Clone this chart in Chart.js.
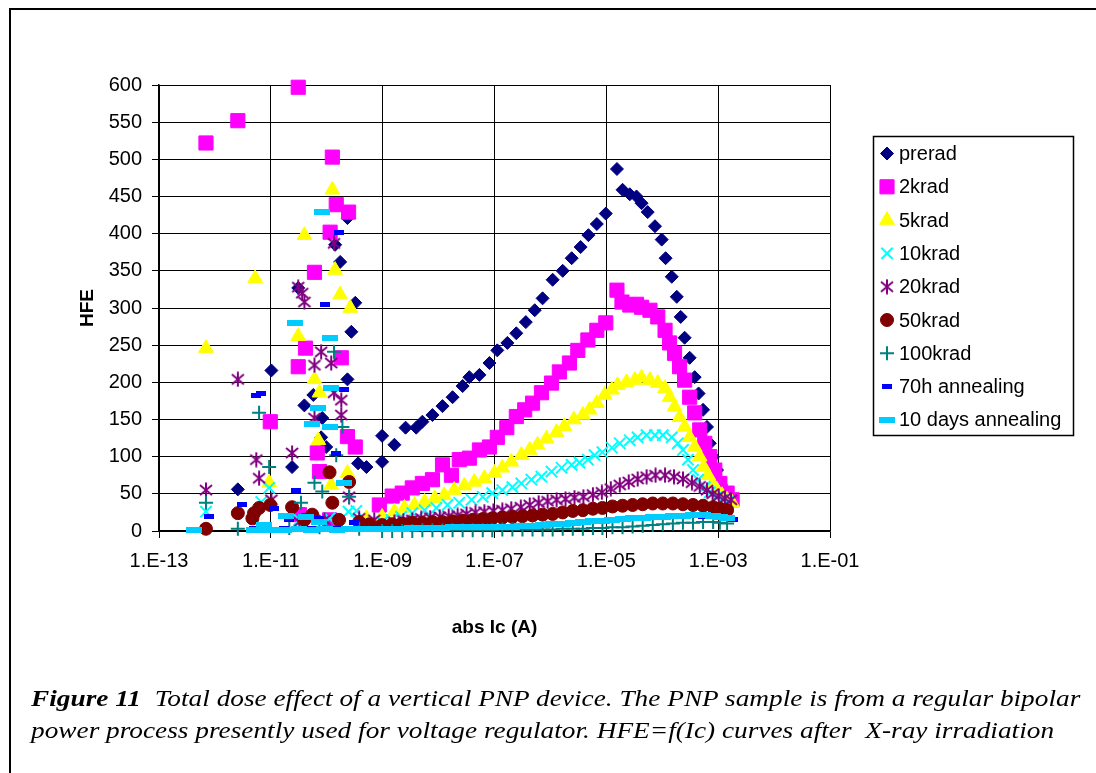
<!DOCTYPE html>
<html>
<head>
<meta charset="utf-8">
<script src="https://cdn.jsdelivr.net/npm/chart.js@4.4.0/dist/chart.umd.min.js"></script>
<style>
  body { margin: 0; background: #fff; }
  #wrap { position: relative; width: 1096px; height: 773px; overflow: hidden; }
  #frame { position: absolute; left: 9px; top: 8px; width: 1200px; height: 900px; border-left: 2px solid #000; border-top: 2px solid #000; }
  #chart { position: absolute; left: 0; top: 0; }
  .cap { position: absolute; left: 31px; font-family: "Liberation Serif", "Times New Roman", serif; font-style: italic; font-size: 23px; line-height: 32px; white-space: nowrap; color: #000; transform: scaleX(1.187); transform-origin: 0 50%; }
</style>
</head>
<body>
<div id="wrap">
  <div id="frame"></div>
  <canvas id="chart" width="1096" height="773"></canvas>
  <div class="cap" style="top:683px"><b>Figure 11</b>&nbsp; Total dose effect of a vertical PNP device. The PNP sample is from a regular bipolar</div>
  <div class="cap" style="top:715px">power process presently used for voltage regulator. HFE=f(Ic) curves after&nbsp; X-ray irradiation</div>
</div>
<script>
// x values are log10(abs Ic), y values are HFE
const preradLogIc = [-11.59,-10.99,-10.62,-10.51,-10.40,-10.24,-10.10,-10.08,-10.01,-9.85,-9.76,-9.63,-9.63,-9.56,-9.49,-9.44,-9.29,
  -9.01,-9.01,-8.79,-8.59,-8.40,-8.29,-8.11,-7.93,-7.75,-7.57,-7.45,-7.27,-7.09,-6.95,-6.77,-6.61,-6.44,-6.28,-6.14,-5.96,
  -5.78,-5.62,-5.46,-5.32,-5.17,-5.01,-4.81,-4.71,-4.58,-4.46,-4.37,-4.26,-4.13,-4.01,-3.94,-3.83,-3.74,-3.67,-3.60,-3.51,
  -3.42,-3.35,-3.27,-3.20,-3.15,-3.09,-3.02,-2.95,-2.88,-2.81];
const preradHfe = [56,216,86,327,169,183,126,152,113,385,362,421,204,268,307,91,86,
  128,93,116,139,139,147,156,168,180,195,207,210,226,243,253,266,281,297,313,338,
  350,367,382,398,413,427,487,459,453,450,441,429,410,392,367,342,315,288,260,233,
  207,185,163,140,118,100,82,62,46,38];

const krad2LogIc = [-12.16,-11.59,-10.51,-9.90,-9.83,-9.61,-9.94,-10.22,-10.38,-10.51,-9.74,-11.01,-9.63,-9.49,-10.17,-10.13,-10.49,-9.95,
  -9.06,-8.83,-8.65,-8.47,-8.29,-8.11,-7.93,-7.77,-7.63,-7.45,-7.27,-7.09,-6.95,-6.78,-6.61,-6.46,-6.32,-6.16,-5.98,-5.84,
  -5.66,-5.51,-5.33,-5.17,-5.01,-4.81,-4.72,-4.58,-4.46,-4.37,-4.22,-4.08,-3.95,-3.87,-3.78,
  -3.69,-3.60,-3.51,-3.42,-3.33,-3.24,-3.15,-3.06,-2.97,-2.84,-2.75];
const krad2Hfe = [522,552,597,503,439,429,402,348,246,221,233,147,127,113,105,80,22,15,
  35,47,51,58,64,69,89,75,96,98,109,113,126,139,154,163,172,186,199,214,
  226,243,257,270,280,324,308,304,305,301,297,288,270,253,239,
  221,203,180,159,136,118,100,82,64,51,42];

const krad5LogIc = [-12.16,-11.28,-10.51,-10.40,-10.22,-10.13,-10.15,-9.90,-9.85,-9.76,-9.58,-11.03,-9.92,-9.63,-9.29,
  -9.01,-8.79,-8.61,-8.43,-8.25,-8.07,-7.90,-7.72,-7.54,-7.36,-7.18,-7.00,-6.86,-6.70,-6.52,-6.37,-6.23,-6.07,-5.89,-5.75,
  -5.58,-5.42,-5.30,-5.17,-5.03,-4.90,-4.80,-4.64,-4.49,-4.37,-4.22,-4.08,-3.95,-3.87,-3.78,-3.69,-3.60,-3.51,-3.42,-3.33,
  -3.26,-3.18,-3.10,-3.02,-2.93,-2.84,-2.75];
const krad5Hfe = [246,340,262,398,204,186,122,459,351,318,300,65,62,78,17,
  19,26,31,35,39,44,48,55,61,66,71,78,85,93,102,109,116,124,133,141,
  150,156,163,172,183,190,196,200,203,206,203,199,192,180,167,153,140,126,113,100,
  86,75,64,55,48,42,38];

const krad10LogIc = [-12.16,-11.03,-11.17,-9.61,-9.47,-10.49,-9.95,
  -9.01,-8.84,-8.67,-8.47,-8.25,-8.04,-7.84,-7.63,-7.41,-7.21,-7.04,-6.86,-6.68,-6.52,-6.34,-6.16,-5.98,-5.80,-5.62,-5.48,
  -5.33,-5.21,-5.07,-4.90,-4.76,-4.58,-4.44,-4.28,-4.13,-3.99,-3.83,-3.72,-3.63,-3.54,-3.45,-3.36,-3.24,-3.15,-3.02,-2.92,-2.83];
const krad10Hfe = [26,58,39,26,27,15,17,
  12,15,19,24,28,31,35,38,42,46,51,55,59,64,69,73,80,85,89,92,
  96,102,106,112,118,122,126,129,129,129,126,118,109,96,82,69,59,52,46,42,39];

const krad20LogIc = [-11.59,-10.40,-10.10,-10.22,-9.92,-9.87,-9.74,-9.74,-10.22,-10.62,-11.26,-11.21,-12.16,-10.99,-9.60,-9.87,-10.44,-10.51,-10.49,-10.04,-9.42,-9.15,
  -8.79,-8.63,-8.47,-8.31,-8.15,-7.98,-7.82,-7.66,-7.50,-7.34,-7.18,-7.02,-6.86,-6.70,-6.53,-6.37,-6.21,-6.05,-5.89,-5.73,
  -5.57,-5.41,-5.24,-5.08,-4.92,-4.76,-4.60,-4.44,-4.28,-4.12,-3.95,-3.79,-3.63,-3.47,-3.33,-3.20,-3.10,-2.99,-2.88,-2.77];
const krad20Hfe = [204,308,241,223,226,186,176,156,152,105,96,71,55,42,46,387,320,328,12,15,17,15,
  12,14,15,17,18,19,20,21,23,25,26,27,28,30,32,35,38,40,42,43,
  45,46,49,52,57,62,66,70,73,75,75,73,70,65,60,55,50,47,44,42];

const krad50LogIc = [-12.16,-11.59,-11.30,-11.21,-11.01,-10.62,-9.95,-9.60,-9.90,-10.26,-11.33,-10.40,-9.78,-9.42,-9.24,
  -9.01,-8.83,-8.65,-8.47,-8.29,-8.11,-7.93,-7.75,-7.57,-7.39,-7.21,-7.04,-6.86,-6.68,-6.50,-6.32,-6.14,-5.96,
  -5.78,-5.60,-5.42,-5.24,-5.07,-4.89,-4.71,-4.53,-4.35,-4.17,-3.99,-3.81,-3.63,-3.45,-3.27,-3.09,-2.97,-2.84];
const krad50Hfe = [3,24,24,31,35,32,79,66,38,22,17,15,15,12,9,
  8,9,10,11,11,12,12,13,14,15,16,17,18,19,20,21,22,23,
  25,27,28,30,31,33,34,35,36,37,37,37,36,35,34,32,30,28];

const krad100LogIc = [-12.16,-11.21,-11.03,-11.59,-10.22,-9.87,-9.72,-9.83,-9.60,-10.08,-10.46,-10.67,-10.13,-9.42,
  -9.01,-8.83,-8.65,-8.47,-8.29,-8.11,-7.93,-7.75,-7.57,-7.39,-7.21,-7.04,-6.86,-6.68,-6.50,-6.32,-6.14,-5.96,
  -5.78,-5.60,-5.42,-5.24,-5.07,-4.89,-4.71,-4.53,-4.35,-4.17,-3.99,-3.81,-3.63,-3.45,-3.27,-3.09,-2.97,-2.84];
const krad100Hfe = [38,159,86,3,65,241,140,102,46,53,38,4,5,3,
  0,0,0,0,1,1,1,1,1,1,1,1,2,2,2,2,2,2,
  3,3,3,4,4,5,5,6,7,8,9,10,11,11,12,12,11,10];

const anneal70hLogIc = [-9.78,-10.04,-11.17,-11.26,-9.69,-9.83,-12.10,-11.51,-10.94,-10.55,-10.67,-10.13,-9.51,-11.30,-10.76,-10.28,-9.81,-9.42,
  -9.01,-8.65,-8.29,-7.93,-7.57,-7.21,-6.86,-6.50,-6.14,-5.78,-5.42,-5.07,-4.71,-4.35,-3.99,-3.63,-3.27,-3.09,-2.92,-2.74];
const anneal70hHfe = [402,305,185,182,191,104,19,35,30,54,15,17,12,3,3,3,3,3,
  4,4,4,5,5,5,6,7,8,9,11,13,15,17,18,19,19,19,18,16];

const anneal10dLogIc = [-12.37,-11.30,-11.03,-10.76,-10.49,-10.28,-10.04,-9.81,-9.60,-9.38,-9.20,
  -10.08,-10.56,-9.95,-9.92,-10.15,-10.26,-9.95,-9.69,-10.73,-10.37,-11.12,-10.13,
  -9.01,-8.83,-8.65,-8.47,-8.29,-8.11,-7.93,-7.75,-7.57,-7.39,-7.21,-7.04,-6.86,-6.68,-6.50,-6.32,-6.14,-5.96,
  -5.78,-5.60,-5.42,-5.24,-5.07,-4.89,-4.71,-4.53,-4.35,-4.17,-3.99,-3.81,-3.63,-3.45,-3.27,-3.09,-2.97,-2.84];
const anneal10dHfe = [1,2,2,2,3,2,3,2,3,3,3,
  429,280,259,192,165,144,140,65,20,19,8,12,
  3,3,3,4,4,4,4,5,5,5,5,6,6,6,7,7,8,9,
  10,11,12,13,14,15,16,17,18,19,19,20,20,21,21,20,19,18];

const xTickExps = [-13, -11, -9, -7, -5, -3, -1];
const xTickLabels = ['1.E-13', '1.E-11', '1.E-09', '1.E-07', '1.E-05', '1.E-03', '1.E-01'];
const yTicks = [0, 50, 100, 150, 200, 250, 300, 350, 400, 450, 500, 550, 600];

function makeMark(w, h, draw) {
  const c = document.createElement('canvas');
  c.width = w; c.height = h;
  draw(c.getContext('2d'));
  return c;
}
const asterisk = makeMark(16, 16, g => {
  g.strokeStyle = '#800080'; g.lineWidth = 2;
  g.beginPath();
  g.moveTo(8, 0.5); g.lineTo(8, 15.5);
  g.moveTo(2, 3); g.lineTo(14, 13);
  g.moveTo(14, 3); g.lineTo(2, 13);
  g.stroke();
});
const blueDash = makeMark(10, 5, g => { g.fillStyle = '#0000FF'; g.fillRect(0, 0, 10, 5); });
const skyDash = makeMark(16, 6, g => { g.fillStyle = '#00CCFF'; g.fillRect(0, 0, 16, 6); });

const series = [
  { label: 'prerad', x: preradLogIc, y: preradHfe, color: '#000080', style: 'rectRot', r: 6.5, bw: 1 },
  { label: '2krad', x: krad2LogIc, y: krad2Hfe, color: '#FF00FF', style: 'rect', r: 10, bw: 1 },
  { label: '5krad', x: krad5LogIc, y: krad5Hfe, color: '#FFFF00', style: 'triangle', r: 8.5, bw: 1 },
  { label: '10krad', x: krad10LogIc, y: krad10Hfe, color: '#00FFFF', style: 'crossRot', r: 8, bw: 2 },
  { label: '20krad', x: krad20LogIc, y: krad20Hfe, color: '#800080', style: asterisk, r: 8, bw: 2 },
  { label: '50krad', x: krad50LogIc, y: krad50Hfe, color: '#800000', style: 'circle', r: 6.5, bw: 1 },
  { label: '100krad', x: krad100LogIc, y: krad100Hfe, color: '#008080', style: 'cross', r: 7, bw: 2 },
  { label: '70h annealing', x: anneal70hLogIc, y: anneal70hHfe, color: '#0000FF', style: blueDash, r: 5, bw: 1 },
  { label: '10 days annealing', x: anneal10dLogIc, y: anneal10dHfe, color: '#00CCFF', style: skyDash, r: 8, bw: 1 }
];

const legendBox = {
  id: 'legendBox',
  afterDraw(chart) {
    const ctx = chart.ctx;
    ctx.save();
    ctx.strokeStyle = '#000';
    ctx.lineWidth = 1.5;
    ctx.strokeRect(873.5, 136.5, 200, 299);
    ctx.font = '20px "Liberation Sans", Arial, sans-serif';
    ctx.textBaseline = 'middle';
    series.forEach((s, i) => {
      const y = 153.5 + i * 33.3;
      ctx.fillStyle = s.color;
      ctx.strokeStyle = s.color;
      ctx.lineWidth = s.bw;
      Chart.helpers.drawPoint(ctx, { pointStyle: s.style, radius: s.r, borderWidth: s.bw, rotation: 0 }, 887, y);
      ctx.fillStyle = '#000';
      ctx.fillText(s.label, 899, y + 1);
    });
    ctx.restore();
  }
};

Chart.defaults.font.family = '"Liberation Sans", Arial, sans-serif';
Chart.defaults.color = '#000';

new Chart(document.getElementById('chart').getContext('2d'), {
  type: 'scatter',
  data: {
    datasets: series.map((s, i) => ({
      label: s.label,
      data: s.x.map((v, k) => ({ x: Math.pow(10, v), y: s.y[k] })),
      pointStyle: s.style,
      pointRadius: s.r,
      pointBackgroundColor: s.color,
      pointBorderColor: s.color,
      pointBorderWidth: s.bw,
      showLine: false,
      order: -i,
      clip: false
    }))
  },
  options: {
    responsive: false,
    devicePixelRatio: 1,
    animation: false,
    events: [],
    layout: { padding: { left: 0, top: 85, right: 266, bottom: 0 } },
    plugins: { legend: { display: false }, tooltip: { enabled: false } },
    scales: {
      x: {
        type: 'logarithmic',
        min: 1e-13,
        max: 1e-1,
        afterBuildTicks: s => { s.ticks = xTickExps.map(e => ({ value: Math.pow(10, e) })); },
        afterFit: s => { s.height = 242; },
        ticks: {
          autoSkip: false,
          maxRotation: 0,
          padding: 11,
          font: { size: 20 },
          callback: (v, i) => xTickLabels[i]
        },
        grid: { color: '#000', lineWidth: 1, tickLength: 7 },
        border: { color: '#000', width: 1.5 },
        title: { display: true, text: 'abs Ic (A)', font: { size: 19, weight: 'bold' }, padding: { top: 0, bottom: 133.6 } }
      },
      y: {
        min: 0,
        max: 600,
        afterBuildTicks: s => { s.ticks = yTicks.map(v => ({ value: v })); },
        afterFit: s => { s.width = 159; },
        ticks: { padding: 10, font: { size: 20 } },
        grid: { color: '#000', lineWidth: 1, tickLength: 7 },
        border: { color: '#000', width: 1.5 },
        title: { display: true, text: 'HFE', font: { size: 19, weight: 'bold' }, padding: { top: 76.6, bottom: 0 } }
      }
    }
  },
  plugins: [legendBox]
});
</script>
</body>
</html>
